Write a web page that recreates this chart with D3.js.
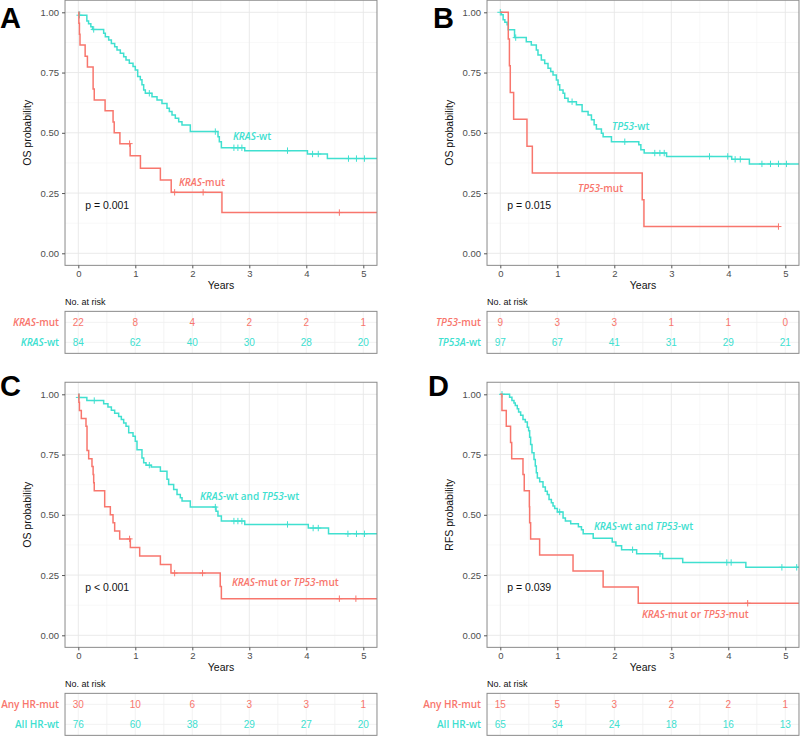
<!DOCTYPE html>
<html><head><meta charset="utf-8">
<script src="https://cdn.jsdelivr.net/npm/d3@7"></script>
<style>body{margin:0;background:#fff}svg{display:block}</style>
</head><body>
<script>
// ---------- data ----------
const years = [0, 1, 2, 3, 4, 5];
const yTicks = [0, 0.25, 0.5, 0.75, 1];

const aMutTime = [0, 0.01, 0.02, 0.03, 0.12, 0.16, 0.26, 0.28, 0.47, 0.61, 0.63, 0.73, 0.91, 1.09, 1.44, 1.63, 2.52];
const aMutSurv = [1, 0.955, 0.909, 0.864, 0.818, 0.773, 0.682, 0.636, 0.591, 0.545, 0.5, 0.455, 0.405, 0.353, 0.304, 0.253, 0.169];
const aMutCens = [0.90, 1.69, 2.19, 4.58];
const aWtTime = [0, 0.02, 0.15, 0.18, 0.22, 0.25, 0.445, 0.474, 0.533, 0.58, 0.638, 0.679, 0.737, 0.796, 0.837, 0.895, 0.96, 1.0, 1.042, 1.088, 1.117, 1.147, 1.176, 1.293, 1.381, 1.468, 1.556, 1.597, 1.644, 1.702, 1.761, 1.819, 1.965, 2.451, 2.474, 2.51, 2.92, 4.02, 4.37];
const aWtSurv = [1, 0.988, 0.964, 0.952, 0.94, 0.929, 0.913, 0.899, 0.885, 0.871, 0.857, 0.844, 0.83, 0.816, 0.802, 0.789, 0.775, 0.761, 0.734, 0.72, 0.699, 0.678, 0.664, 0.65, 0.636, 0.622, 0.602, 0.588, 0.574, 0.56, 0.546, 0.532, 0.505, 0.484, 0.463, 0.438, 0.426, 0.412, 0.393];
const aWtCens = [0.02, 0.27, 1.246, 2.404, 2.73, 2.80, 2.87, 3.67, 4.11, 4.21, 4.74, 4.88, 5.02];
const aMutRisk = [22, 8, 4, 2, 2, 1];
const aWtRisk = [84, 62, 40, 30, 28, 20];

const bMutTime = [0, 0.14, 0.16, 0.175, 0.234, 0.468, 0.562, 2.49, 2.52];
const bMutSurv = [1, 0.889, 0.778, 0.667, 0.556, 0.444, 0.333, 0.222, 0.111];
const bMutCens = [4.88];
const bWtTime = [0, 0.02, 0.05, 0.08, 0.12, 0.14, 0.25, 0.456, 0.544, 0.632, 0.661, 0.72, 0.779, 0.837, 0.884, 0.925, 0.984, 1.013, 1.042, 1.101, 1.13, 1.189, 1.335, 1.435, 1.54, 1.599, 1.646, 1.686, 1.774, 1.804, 1.95, 2.43, 2.466, 2.524, 2.917, 4.06, 4.37];
const bWtSurv = [1, 0.99, 0.969, 0.959, 0.948, 0.928, 0.895, 0.878, 0.864, 0.844, 0.823, 0.802, 0.788, 0.768, 0.754, 0.74, 0.719, 0.699, 0.678, 0.664, 0.643, 0.629, 0.616, 0.588, 0.574, 0.554, 0.533, 0.516, 0.498, 0.484, 0.463, 0.45, 0.43, 0.416, 0.402, 0.39, 0.371];
const bWtCens = [0.0, 0.27, 1.259, 2.184, 2.71, 2.80, 2.876, 3.67, 3.99, 4.12, 4.21, 4.59, 4.74, 4.88, 5.02];
const bMutRisk = [9, 3, 3, 1, 1, 0];
const bWtRisk = [97, 67, 41, 31, 29, 21];

const cMutTime = [0, 0.01, 0.02, 0.053, 0.135, 0.153, 0.182, 0.24, 0.26, 0.27, 0.28, 0.463, 0.562, 0.609, 0.638, 0.726, 0.913, 1.077, 1.44, 1.626, 2.49, 2.51];
const cMutSurv = [1, 0.967, 0.933, 0.9, 0.867, 0.767, 0.733, 0.7, 0.667, 0.633, 0.6, 0.533, 0.5, 0.467, 0.433, 0.4, 0.364, 0.329, 0.294, 0.258, 0.203, 0.152];
const cMutCens = [0.90, 1.69, 2.18, 4.58, 4.87];
const cWtTime = [0, 0.01, 0.15, 0.445, 0.52, 0.58, 0.638, 0.708, 0.755, 0.796, 0.837, 0.884, 0.96, 1.0, 1.03, 1.117, 1.147, 1.188, 1.28, 1.44, 1.556, 1.585, 1.673, 1.732, 1.79, 1.82, 1.965, 2.416, 2.45, 2.51, 2.92, 4.035, 4.39];
const cWtSurv = [1, 0.987, 0.974, 0.961, 0.947, 0.934, 0.921, 0.908, 0.895, 0.881, 0.867, 0.84, 0.826, 0.805, 0.77, 0.736, 0.716, 0.706, 0.698, 0.681, 0.647, 0.626, 0.605, 0.584, 0.571, 0.557, 0.532, 0.515, 0.495, 0.474, 0.46, 0.445, 0.421];
const cWtCens = [0.01, 0.28, 1.246, 2.404, 2.73, 2.80, 2.87, 3.67, 4.12, 4.21, 4.73, 4.88, 5.02];
const cMutRisk = [30, 10, 6, 3, 3, 1];
const cWtRisk = [76, 60, 38, 29, 27, 20];

const dMutTime = [0, 0.029, 0.105, 0.18, 0.2, 0.398, 0.42, 0.51, 0.515, 0.532, 0.69, 1.276, 1.804, 2.42];
const dMutSurv = [1, 0.933, 0.867, 0.8, 0.733, 0.667, 0.6, 0.533, 0.467, 0.4, 0.333, 0.267, 0.2, 0.133];
const dMutCens = [4.34];
const dWtTime = [0, 0.163, 0.204, 0.24, 0.263, 0.298, 0.321, 0.357, 0.398, 0.439, 0.474, 0.497, 0.515, 0.532, 0.556, 0.591, 0.614, 0.632, 0.65, 0.691, 0.749, 0.79, 0.825, 0.855, 0.896, 0.925, 0.954, 1.001, 1.101, 1.142, 1.235, 1.37, 1.424, 1.454, 1.63, 1.964, 2.028, 2.128, 2.392, 2.849, 3.2, 4.308];
const dWtSurv = [1, 0.988, 0.974, 0.964, 0.954, 0.94, 0.927, 0.913, 0.895, 0.885, 0.863, 0.849, 0.822, 0.792, 0.757, 0.729, 0.702, 0.674, 0.653, 0.637, 0.615, 0.598, 0.584, 0.564, 0.55, 0.536, 0.526, 0.512, 0.487, 0.474, 0.463, 0.45, 0.438, 0.421, 0.403, 0.387, 0.372, 0.355, 0.338, 0.319, 0.302, 0.282];
const dWtCens = [0.03, 1.042, 2.321, 2.802, 3.974, 4.05, 4.94, 5.2, 5.25];
const dMutRisk = [15, 5, 3, 2, 2, 1];
const dWtRisk = [65, 34, 24, 18, 16, 13];

// ---------- style ----------
const RED = "#F8766D", CYAN = "#40E0D0";
const SANS = "'Liberation Sans', Arial, Helvetica, sans-serif";
const LBL = "'Open Sans', sans-serif";

const svg = d3.select("body").append("svg").attr("width", 800).attr("height", 736);

const panels = [
  {id:"A", ox:0, oy:0, lx:0, ly:27.5, ylab:"OS probability", p:"p = 0.001",
   mut:{t:aMutTime, s:aMutSurv, c:aMutCens, end:5.4, risk:aMutRisk},
   wt:{t:aWtTime, s:aWtSurv, c:aWtCens, end:5.4, risk:aWtRisk},
   mutLab:[["KRAS",true],["-mut",false]], wtLab:[["KRAS",true],["-wt",false]],
   mutRow:[["KRAS",true],["-mut",false]], wtRow:[["KRAS",true],["-wt",false]],
   mutPos:[179,182], wtPos:[233,136]},
  {id:"B", ox:422, oy:0, lx:433, ly:27.5, ylab:"OS probability", p:"p = 0.015",
   mut:{t:bMutTime, s:bMutSurv, c:bMutCens, end:4.88, risk:bMutRisk},
   wt:{t:bWtTime, s:bWtSurv, c:bWtCens, end:5.4, risk:bWtRisk},
   mutLab:[["TP53",true],["-mut",false]], wtLab:[["TP53",true],["-wt",false]],
   mutRow:[["TP53",true],["-mut",false]], wtRow:[["TP53A",true],["-wt",false]],
   mutPos:[156,188], wtPos:[190,126]},
  {id:"C", ox:0, oy:382, lx:0, ly:396, ylab:"OS probability", p:"p < 0.001",
   mut:{t:cMutTime, s:cMutSurv, c:cMutCens, end:5.4, risk:cMutRisk},
   wt:{t:cWtTime, s:cWtSurv, c:cWtCens, end:5.4, risk:cWtRisk},
   mutLab:[["KRAS",true],["-mut or ",false],["TP53",true],["-mut",false]],
   wtLab:[["KRAS",true],["-wt and ",false],["TP53",true],["-wt",false]],
   mutRow:[["Any HR-mut",false]], wtRow:[["All HR-wt",false]],
   mutPos:[232,200], wtPos:[200,114]},
  {id:"D", ox:422, oy:382, lx:428, ly:396, ylab:"RFS probability", p:"p = 0.039",
   mut:{t:dMutTime, s:dMutSurv, c:dMutCens, end:5.4, risk:dMutRisk},
   wt:{t:dWtTime, s:dWtSurv, c:dWtCens, end:5.4, risk:dWtRisk},
   mutLab:[["KRAS",true],["-mut or ",false],["TP53",true],["-mut",false]],
   wtLab:[["KRAS",true],["-wt and ",false],["TP53",true],["-wt",false]],
   mutRow:[["Any HR-mut",false]], wtRow:[["All HR-wt",false]],
   mutPos:[220,232], wtPos:[172,144]}
];

const xMin = -0.233, xMax = 5.24;
const x = d3.scaleLinear().domain([0, 5]).range([78.3, 363.3]);
const y = d3.scaleLinear().domain([0, 1]).range([253.3, 12.3]);
const minorX = [0.5, 1.5, 2.5, 3.5, 4.5];
const minorY = [0.125, 0.375, 0.625, 0.875];

function survAt(t, times, surv) {
  let v = surv[0];
  for (let i = 0; i < times.length; i++) if (times[i] <= t) v = surv[i];
  return v;
}

function richText(sel, parts) {
  parts.forEach(([txt, it]) => sel.append("tspan").attr("font-style", it ? "italic" : "normal").text(txt));
}

panels.forEach(P => {
  // panel letter
  svg.append("text").attr("x", P.lx).attr("y", P.ly)
    .attr("font-family", SANS).attr("font-weight", 700).attr("font-size", 29).text(P.id);

  const g = svg.append("g").attr("transform", `translate(${P.ox},${P.oy})`);
  const x0 = x(xMin), x1 = x(xMax), yTop = y(1.05), yBot = y(-0.05);

  // grid
  g.selectAll(".mnx").data(minorX).enter().append("line")
    .attr("x1", d=>x(d)).attr("x2", d=>x(d)).attr("y1", yTop).attr("y2", yBot)
    .attr("stroke", "#F3F3F3").attr("stroke-width", 0.6);
  g.selectAll(".mny").data(minorY).enter().append("line")
    .attr("x1", x0).attr("x2", x1).attr("y1", d=>y(d)).attr("y2", d=>y(d))
    .attr("stroke", "#F3F3F3").attr("stroke-width", 0.6);
  g.selectAll(".mjx").data(years).enter().append("line")
    .attr("x1", d=>x(d)).attr("x2", d=>x(d)).attr("y1", yTop).attr("y2", yBot)
    .attr("stroke", "#E8E8E8").attr("stroke-width", 0.9);
  g.selectAll(".mjy").data(yTicks).enter().append("line")
    .attr("x1", x0).attr("x2", x1).attr("y1", d=>y(d)).attr("y2", d=>y(d))
    .attr("stroke", "#E8E8E8").attr("stroke-width", 0.9);

  // clip
  const cid = "clip" + P.id;
  g.append("clipPath").attr("id", cid).append("rect")
    .attr("x", x0).attr("y", yTop - 2).attr("width", x1 - x0).attr("height", yBot - yTop + 4);

  const line = d3.line().x(d=>x(d[0])).y(d=>y(d[1])).curve(d3.curveStepAfter);
  const curves = g.append("g").attr("clip-path", `url(#${cid})`);
  [[P.wt, CYAN], [P.mut, RED]].forEach(([S, col]) => {
    const pts = S.t.map((t, i) => [t, S.s[i]]);
    pts.push([S.end, S.s[S.s.length - 1]]);
    curves.append("path").attr("d", line(pts)).attr("fill", "none")
      .attr("stroke", col).attr("stroke-width", 1.5);
    S.c.forEach(ct => {
      const cx = x(ct), cy = y(survAt(ct, S.t, S.s));
      curves.append("path").attr("d", `M${cx},${cy-3.2}V${cy+3.2}M${cx-3},${cy}H${cx+3}`)
        .attr("stroke", col).attr("stroke-width", 1);
    });
  });

  // border
  g.append("rect").attr("x", x0).attr("y", yTop).attr("width", x1 - x0).attr("height", yBot - yTop)
    .attr("fill", "none").attr("stroke", "#8a8a8a").attr("stroke-width", 1);

  // axes
  const ya = g.append("g").attr("transform", `translate(${x0},0)`)
    .call(d3.axisLeft(y).tickValues(yTicks).tickFormat(d3.format(".2f")).tickSize(3).tickPadding(3));
  const xa = g.append("g").attr("transform", `translate(0,${yBot})`)
    .call(d3.axisBottom(x).tickValues(years).tickFormat(d3.format("d")).tickSize(3).tickPadding(2));
  [ya, xa].forEach(a => {
    a.select(".domain").remove();
    a.selectAll("line").attr("stroke", "#555");
    a.selectAll("text").attr("font-family", SANS).attr("font-size", 9.5).attr("fill", "#4D4D4D");
  });

  g.append("text").attr("x", (x0 + x1) / 2).attr("y", yBot + 23.5).attr("text-anchor", "middle")
    .attr("font-family", SANS).attr("font-size", 10.5).attr("fill", "#111").text("Years");
  g.append("text").attr("transform", `translate(30.5,${(yTop + yBot) / 2}) rotate(-90)`)
    .attr("text-anchor", "middle").attr("font-family", SANS).attr("font-size", 10.5)
    .attr("fill", "#111").text(P.ylab);

  // p-value
  g.append("text").attr("x", x(0.12)).attr("y", y(0.2) + 3.6)
    .attr("font-family", SANS).attr("font-size", 10.5).attr("fill", "#111").text(P.p);

  // curve labels
  richText(g.append("text").attr("x", P.wtPos[0]).attr("y", P.wtPos[1] + 3.5)
    .attr("font-family", LBL).attr("font-weight", 600).attr("font-size", 10).attr("fill", CYAN), P.wtLab);
  richText(g.append("text").attr("x", P.mutPos[0]).attr("y", P.mutPos[1] + 3.5)
    .attr("font-family", LBL).attr("font-weight", 600).attr("font-size", 10).attr("fill", RED), P.mutLab);

  // risk table
  const tTop = yBot + 46, tBot = yBot + 88, rMut = yBot + 57, rWt = yBot + 77;
  g.append("text").attr("x", x0).attr("y", yBot + 40)
    .attr("font-family", SANS).attr("font-size", 9).attr("fill", "#111").text("No. at risk");
  const tg = g.append("g");
  tg.selectAll(".tmj").data(years.concat(minorX)).enter().append("line")
    .attr("x1", d=>x(d)).attr("x2", d=>x(d)).attr("y1", tTop).attr("y2", tBot)
    .attr("stroke", "#F0F0F0").attr("stroke-width", 0.8);
  tg.selectAll(".thz").data([rMut, rWt]).enter().append("line")
    .attr("x1", x0).attr("x2", x1).attr("y1", d=>d).attr("y2", d=>d)
    .attr("stroke", "#F0F0F0").attr("stroke-width", 0.8);
  tg.append("rect").attr("x", x0).attr("y", tTop).attr("width", x1 - x0).attr("height", tBot - tTop)
    .attr("fill", "none").attr("stroke", "#8a8a8a").attr("stroke-width", 1);
  [[P.mut.risk, rMut, RED], [P.wt.risk, rWt, CYAN]].forEach(([arr, ry, col]) => {
    tg.selectAll(null).data(arr).enter().append("text")
      .attr("x", (d, i) => x(years[i])).attr("y", ry + 3.6).attr("text-anchor", "middle")
      .attr("font-family", SANS).attr("font-size", 10).attr("fill", col).text(d => d);
  });
  richText(g.append("text").attr("x", x0 - 6).attr("y", rMut + 3.5).attr("text-anchor", "end")
    .attr("font-family", LBL).attr("font-weight", 600).attr("font-size", 10).attr("fill", RED), P.mutRow);
  richText(g.append("text").attr("x", x0 - 6).attr("y", rWt + 3.5).attr("text-anchor", "end")
    .attr("font-family", LBL).attr("font-weight", 600).attr("font-size", 10).attr("fill", CYAN), P.wtRow);
});
</script>
</body></html>
